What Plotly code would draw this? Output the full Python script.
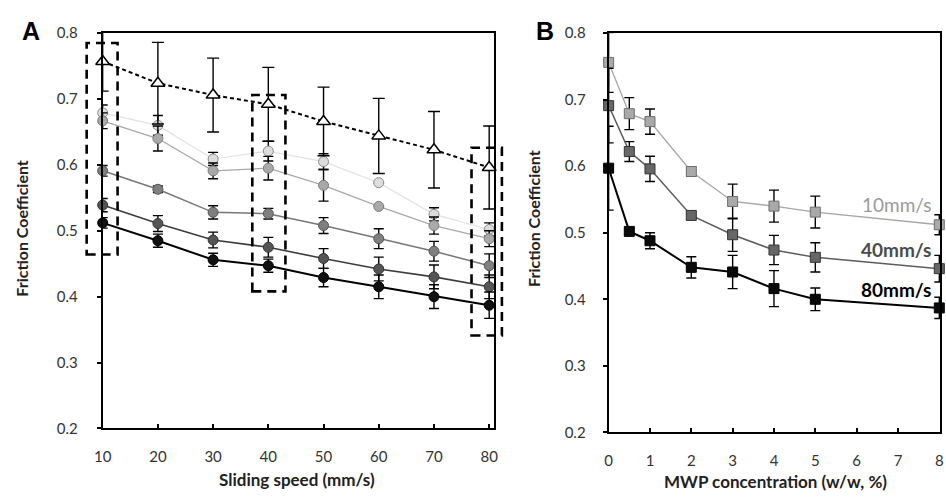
import plotly.graph_objects as go

# ---------------- Panel A: friction vs sliding speed ----------------
speed = [10, 20, 30, 40, 50, 60, 70, 80]

# 0 % MWP (open triangles, dashed)
a_ctrl = [0.757, 0.724, 0.706, 0.692, 0.666, 0.644, 0.623, 0.596]
a_ctrl_err = [0.045, 0.062, 0.056, 0.056, 0.052, 0.057, 0.058, 0.063]

# MWP-containing samples (circles, light to dark)
a_s1 = [0.679, 0.660, 0.609, 0.621, 0.605, 0.573, 0.525, 0.502]
a_s1_err = [0.012, 0.015, 0.010, 0.015, 0.012, 0.0, 0.010, 0.010]
a_s2 = [0.667, 0.640, 0.591, 0.595, 0.569, 0.537, 0.508, 0.488]
a_s2_err = [0.012, 0.019, 0.012, 0.018, 0.024, 0.0, 0.013, 0.012]
a_s3 = [0.591, 0.563, 0.528, 0.526, 0.508, 0.488, 0.469, 0.447]
a_s3_err = [0.008, 0.005, 0.010, 0.008, 0.012, 0.015, 0.015, 0.018]
a_s4 = [0.539, 0.511, 0.486, 0.475, 0.458, 0.442, 0.430, 0.415]
a_s4_err = [0.010, 0.012, 0.012, 0.015, 0.015, 0.018, 0.018, 0.018]
a_s5 = [0.512, 0.485, 0.456, 0.447, 0.429, 0.415, 0.400, 0.387]
a_s5_err = [0.008, 0.010, 0.010, 0.010, 0.014, 0.018, 0.018, 0.020]

# highlighted speeds (dashed boxes): x-span and y-span in data units
box_x = [(7.1, 12.7), (37.1, 43.1), (76.8, 82.3)]
box_y = [(0.464, 0.785), (0.408, 0.706), (0.341, 0.626)]

# ---------------- Panel B: friction vs MWP concentration ----------------
conc = [0, 0.5, 1, 2, 3, 4, 5, 8]
b_10 = [0.756, 0.679, 0.667, 0.592, 0.547, 0.540, 0.531, 0.512]
b_10_err = [0.045, 0.024, 0.019, 0.007, 0.026, 0.024, 0.024, 0.015]
b_40 = [0.691, 0.622, 0.596, 0.526, 0.497, 0.474, 0.463, 0.446]
b_40_err = [0.056, 0.015, 0.019, 0.005, 0.025, 0.022, 0.022, 0.020]
b_80 = [0.597, 0.502, 0.488, 0.448, 0.441, 0.416, 0.400, 0.387]
b_80_err = [0.063, 0.005, 0.012, 0.016, 0.025, 0.027, 0.017, 0.016]
b_labels = ["10mm/s", "40mm/s", "80mm/s"]
b_label_y = [0.542, 0.475, 0.414]

XA_RANGE = [10, 80.9]
YA_RANGE = [0.2, 0.8]
XB_RANGE = [0, 8.02]
YB_RANGE = [0.2, 0.8]

FONT = "Lato, 'Open Sans', sans-serif"

fig = go.Figure()


def err(vals, color="black", width=5):
    return dict(type="data", array=vals, visible=True, color=color,
                thickness=1.4, width=width)


def circle_series(y, e, fill, edge, line_col, lw=1.5):
    fig.add_trace(go.Scatter(
        x=speed, y=y, mode="lines+markers", xaxis="x", yaxis="y",
        line=dict(color=line_col, width=lw),
        marker=dict(symbol="circle", size=10, color=fill,
                    line=dict(color=edge, width=1)),
        error_y=err(e), cliponaxis=False, showlegend=False))


circle_series(a_s1, a_s1_err, "#dcdcdc", "#8c8c8c", "#e2e2e2", 1.2)
circle_series(a_s2, a_s2_err, "#a9a9a9", "#7a7a7a", "#a8a8a8", 1.3)
circle_series(a_s3, a_s3_err, "#7f7f7f", "#555555", "#777777", 1.5)
circle_series(a_s4, a_s4_err, "#555555", "#333333", "#3c3c3c", 1.6)
circle_series(a_s5, a_s5_err, "#111111", "#000000", "#000000", 2.0)

fig.add_trace(go.Scatter(
    x=speed, y=a_ctrl, mode="lines+markers", xaxis="x", yaxis="y",
    line=dict(color="black", width=2, dash="4px,3px"),
    marker=dict(symbol="triangle-up", size=12, color="white",
                line=dict(color="black", width=1.5)),
    error_y=dict(type="data", array=a_ctrl_err, arrayminus=a_ctrl_err,
                 visible=True, color="black", thickness=1.4, width=6),
    cliponaxis=False, showlegend=False))


def square_series(y, e, fill, edge, line_col, lw):
    fig.add_trace(go.Scatter(
        x=conc, y=y, mode="lines+markers", xaxis="x2", yaxis="y2",
        line=dict(color=line_col, width=lw),
        marker=dict(symbol="square", size=10, color=fill,
                    line=dict(color=edge, width=1)),
        error_y=err(e), cliponaxis=False, showlegend=False))


square_series(b_10, b_10_err, "#a9a9a9", "#6e6e6e", "#a6a6a6", 1.3)
square_series(b_40, b_40_err, "#676767", "#333333", "#5c5c5c", 1.5)
square_series(b_80, b_80_err, "#0a0a0a", "#000000", "#000000", 2.0)

# domain placement of the two panels
XA_DOM = [0.1004, 0.520]
YA_DOM = [0.1372, 0.9523]
XB_DOM = [0.6427, 0.998]
YB_DOM = [0.1292, 0.9523]


def to_dom(v, rng):
    return (v - rng[0]) / (rng[1] - rng[0])


# dashed selection boxes around the three speeds (drawn outside the axes clip)
for (x0, x1), (y0, y1) in zip(box_x, box_y):
    fig.add_shape(type="rect", xref="x domain", yref="y domain",
                  x0=to_dom(x0, XA_RANGE), x1=to_dom(x1, XA_RANGE),
                  y0=to_dom(y0, YA_RANGE), y1=to_dom(y1, YA_RANGE),
                  line=dict(color="black", width=2.6, dash="9px,6px"))

axis_common = dict(showgrid=False, zeroline=False, showline=True,
                   linecolor="black", linewidth=2, mirror=True,
                   tickfont=dict(family=FONT, size=15, color="#333333"),
                   ticklen=4, tickwidth=1.5, tickcolor="black")

fig.update_layout(
    width=946, height=503, margin=dict(l=0, r=0, t=0, b=0),
    plot_bgcolor="white", paper_bgcolor="white",
    xaxis=dict(domain=XA_DOM, range=XA_RANGE, tickmode="array",
               tickvals=speed, ticks="inside", ticklabelstandoff=14,
               anchor="y", **axis_common),
    yaxis=dict(domain=YA_DOM, range=YA_RANGE, dtick=0.1, tickformat=".1f",
               ticks="outside", ticklabelstandoff=16, anchor="x",
               **axis_common),
    xaxis2=dict(domain=XB_DOM, range=XB_RANGE, dtick=1, tick0=0,
                ticks="inside", ticklabelstandoff=14, anchor="y2",
                **axis_common),
    yaxis2=dict(domain=YB_DOM, range=YB_RANGE, dtick=0.1, tickformat=".1f",
                ticks="outside", ticklabelstandoff=14, anchor="x2",
                **axis_common),
)

# series labels on panel B
label_styles = [("#9a9a9a", False), ("#4a4a4a", True), ("#000000", True)]
for txt, yv, (col, bold) in zip(b_labels, b_label_y, label_styles):
    fig.add_annotation(x=7.85, y=yv, xref="x2", yref="y2", xanchor="right",
                       yanchor="middle", showarrow=False,
                       text=f"<b>{txt}</b>" if bold else txt,
                       font=dict(family=FONT, size=19, color=col))


def paper_text(x_px, y_px, text, font, angle=0):
    fig.add_annotation(x=x_px / 946, y=1 - y_px / 503, xref="paper",
                       yref="paper", xanchor="center", yanchor="middle",
                       text=text, textangle=angle, showarrow=False,
                       font=font)


# axis titles and panel letters
xtitle_font = dict(family=FONT, size=17, color="#222222")
ytitle_font = dict(family=FONT, size=16, color="#222222")
paper_text(292, 487, "<b>Sliding speed (mm/s)</b>", xtitle_font)
paper_text(777, 489, "<b>MWP concentration (w/w, %)</b>", xtitle_font)
paper_text(13, 226, "<b>Friction Coefficient</b>", ytitle_font, -90)
paper_text(532, 216, "<b>Friction Coefficient</b>", ytitle_font, -90)
letter_font = dict(family="Liberation Sans, Arial, sans-serif", size=25,
                   color="black")
paper_text(22, 22, "<b>A</b>", letter_font)
paper_text(543, 22, "<b>B</b>", letter_font)

fig.write_html("out.html")
